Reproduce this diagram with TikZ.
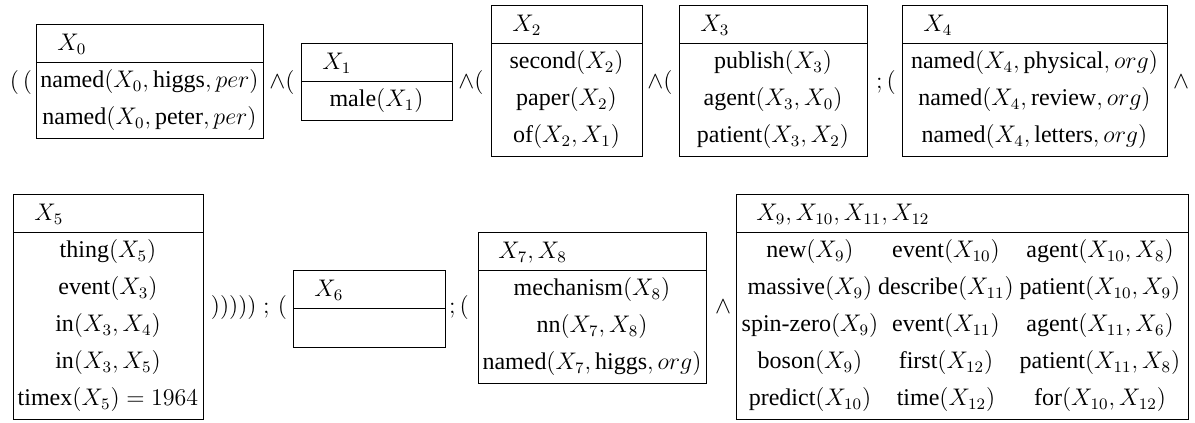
\documentclass[12pt,tikz,border=0pt]{standalone}
\usepackage{amsmath}
\usepackage[no-math]{fontspec}
\setmainfont{Liberation Serif}
\usepackage{tikz}
\tikzset{box/.style={draw=black, line width=0.5pt},
 refs/.style={anchor=base west, inner sep=0pt},
 cond/.style={anchor=base, inner sep=0pt},
 conn/.style={anchor=base, inner sep=0pt},
 }
\newcommand{\pr}[1]{\text{#1}}

\begin{document}
\begin{tikzpicture}[x=0.5pt, y=-0.5pt]
    \useasboundingbox (0,0) rectangle (1195,423);
    % boxes: left/top/right/number of rows
    \foreach \l/\t/\r/\n in {36/24/263/2, 301/43/452/1, 491/5/642/3, 679/5/867/3,
        902/5/1167/3, 13/194/203/5, 293/270/445/1, 478/232/706/3, 736/194/1188/5}
        \draw[box] (\l,\t) rectangle (\r,\t+40+37*\n) (\l,\t+38) -- (\r,\t+38);

    % first line
    \node[conn] (k0) at (21,88.5) {$(\,($};
    \node[refs] (v0) at (57,50.5) {$X_0$};
    \node[cond] (c0a) at (149.5,87.5) {$\pr{named}(X_0,\pr{higgs},per)$};
    \node[cond] (c0b) at (149.5,124.5) {$\pr{named}(X_0,\pr{peter},per)$};
    \node[conn] (k1) at (282,88.5) {$\wedge($};
    \node[refs] (v1) at (322,69.5) {$X_1$};
    \node[cond] (c1a) at (376.5,106.5) {$\pr{male}(X_1)$};
    \node[conn] (k2) at (471,88.5) {$\wedge($};
    \node[refs] (v2) at (512,31.5) {$X_2$};
    \node[cond] (c2a) at (566.5,68.5) {$\pr{second}(X_2)$};
    \node[cond] (c2b) at (566.5,105.5) {$\pr{paper}(X_2)$};
    \node[cond] (c2c) at (566.5,142.5) {$\pr{of}(X_2,X_1)$};
    \node[conn] (k3) at (660,88.5) {$\wedge($};
    \node[refs] (v3) at (700,31.5) {$X_3$};
    \node[cond] (c3a) at (773,68.5) {$\pr{publish}(X_3)$};
    \node[cond] (c3b) at (773,105.5) {$\pr{agent}(X_3,X_0)$};
    \node[cond] (c3c) at (773,142.5) {$\pr{patient}(X_3,X_2)$};
    \node[conn] (k4) at (886,88.5) {$;($};
    \node[refs] (v4) at (923,31.5) {$X_4$};
    \node[cond] (c4a) at (1034.5,68.5) {$\pr{named}(X_4,\pr{physical},org)$};
    \node[cond] (c4b) at (1034.5,105.5) {$\pr{named}(X_4,\pr{review},org)$};
    \node[cond] (c4c) at (1034.5,142.5) {$\pr{named}(X_4,\pr{letters},org)$};
    \node[conn] (k5) at (1181,88.5) {$\wedge$};

    % second line
    \node[refs] (v5) at (34,220.5) {$X_5$};
    \node[cond] (c5a) at (108,257.5) {$\pr{thing}(X_5)$};
    \node[cond] (c5b) at (108,294.5) {$\pr{event}(X_3)$};
    \node[cond] (c5c) at (108,331.5) {$\pr{in}(X_3,X_4)$};
    \node[cond] (c5d) at (108,368.5) {$\pr{in}(X_3,X_5)$};
    \node[cond] (c5e) at (108,405.5) {$\pr{timex}(X_5)=1964$};
    \node[conn] (k6) at (249,313) {$)))))\;;\,($};
    \node[refs] (v6) at (314,296.5) {$X_6$};
    \node[conn] (k7) at (459,313) {$;($};
    \node[refs] (v7) at (498,258.5) {$X_7,X_8$};
    \node[cond] (c7a) at (592,295.5) {$\pr{mechanism}(X_8)$};
    \node[cond] (c7b) at (592,332.5) {$\pr{nn}(X_7,X_8)$};
    \node[cond] (c7c) at (592,369.5) {$\pr{named}(X_7,\pr{higgs},org)$};
    \node[conn] (k8) at (723,313) {$\wedge$};
    \node[refs] (v9) at (756,220.5) {$X_9,X_{10},X_{11},X_{12}$};
    \node[cond] (c9a) at (810,257.5) {$\pr{new}(X_9)$};
    \node[cond] (c9b) at (810,294.5) {$\pr{massive}(X_9)$};
    \node[cond] (c9c) at (810,331.5) {$\pr{spin-zero}(X_9)$};
    \node[cond] (c9d) at (810,368.5) {$\pr{boson}(X_9)$};
    \node[cond] (c9e) at (810,405.5) {$\pr{predict}(X_{10})$};
    \node[cond] (c10a) at (946,257.5) {$\pr{event}(X_{10})$};
    \node[cond] (c10b) at (946,294.5) {$\pr{describe}(X_{11})$};
    \node[cond] (c10c) at (946,331.5) {$\pr{event}(X_{11})$};
    \node[cond] (c10d) at (946,368.5) {$\pr{first}(X_{12})$};
    \node[cond] (c10e) at (946,405.5) {$\pr{time}(X_{12})$};
    \node[cond] (c11a) at (1100,257.5) {$\pr{agent}(X_{10},X_8)$};
    \node[cond] (c11b) at (1100,294.5) {$\pr{patient}(X_{10},X_9)$};
    \node[cond] (c11c) at (1100,331.5) {$\pr{agent}(X_{11},X_6)$};
    \node[cond] (c11d) at (1100,368.5) {$\pr{patient}(X_{11},X_8)$};
    \node[cond] (c11e) at (1100,405.5) {$\pr{for}(X_{10},X_{12})$};
\end{tikzpicture}
\end{document}
